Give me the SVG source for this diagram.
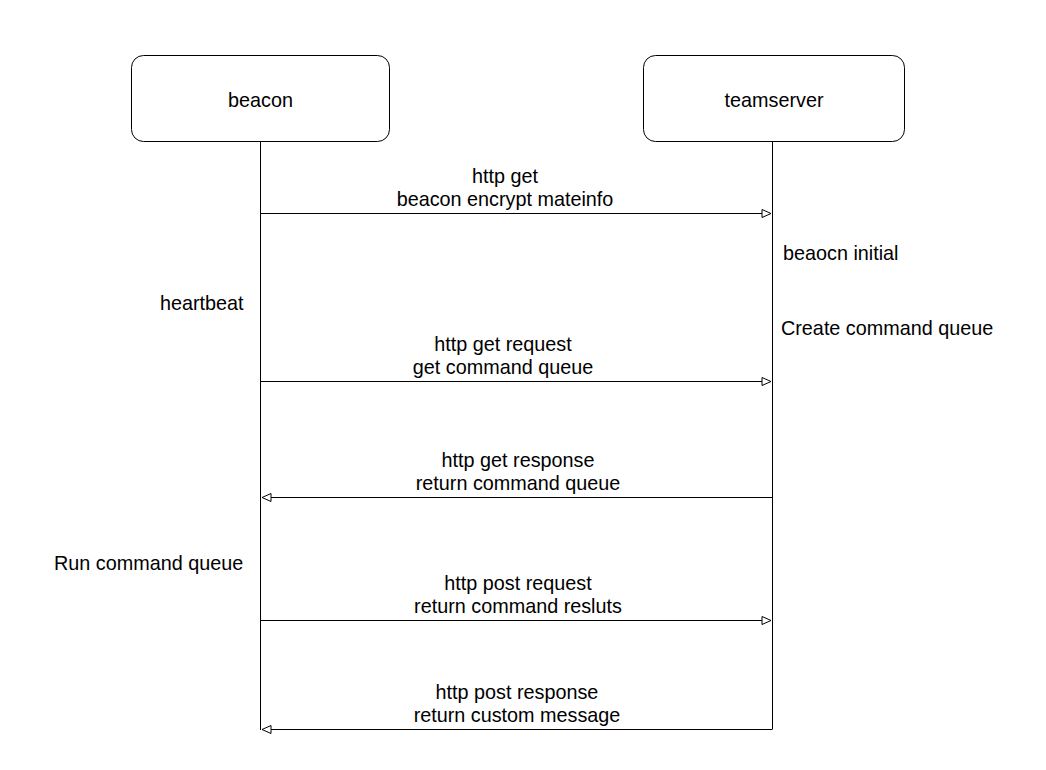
<svg xmlns="http://www.w3.org/2000/svg" width="1046" height="770" viewBox="0 0 1046 770">
<style>
.box{fill:#fff;stroke:#000;stroke-width:1}
.life{stroke:#000;stroke-width:1;fill:none}
.msg{stroke:#000;stroke-width:1;fill:none;marker-end:url(#arr)}
text{font-family:"Liberation Sans",Arial,sans-serif;font-size:19.8px;fill:#000}
.c{text-anchor:middle}
</style>
<defs>
<marker id="arr" markerWidth="12" markerHeight="10" refX="10" refY="5" orient="auto" markerUnits="userSpaceOnUse">
<path d="M1,1 L10,5 L1,9 Z" fill="#fff" stroke="#000" stroke-width="1"/>
</marker>
</defs>
<rect width="1046" height="770" fill="#fff"/>
<g id="beacon">
<rect class="box" x="131.5" y="55.5" width="258" height="86" rx="12"/>
<text class="c" x="260.5" y="107">beacon</text>
</g>
<g id="teamserver">
<rect class="box" x="643.5" y="55.5" width="261" height="86" rx="12"/>
<text class="c" x="774" y="107">teamserver</text>
</g>
<g id="connectors">
<path class="life" d="M260.5,141.5 V730"/>
<path class="life" d="M772.5,141.5 V729"/>
<path class="msg" d="M260.5,213.5 H771"/>
<path class="msg" d="M260.5,381.5 H771"/>
<path class="msg" d="M772.5,497.5 H262"/>
<path class="msg" d="M260.5,620.5 H771"/>
<path class="msg" d="M772.5,729.5 H262"/>
</g>
<g id="labels">
<text class="c" x="505" y="183">http get</text>
<text class="c" x="505" y="206">beacon encrypt mateinfo</text>
<text x="783" y="260">beaocn initial</text>
<text x="160" y="310">heartbeat</text>
<text x="781" y="335">Create command queue</text>
<text class="c" x="503" y="351">http get request</text>
<text class="c" x="503" y="374">get command queue</text>
<text class="c" x="518" y="467">http get response</text>
<text class="c" x="518" y="490">return command queue</text>
<text x="54" y="570">Run command queue</text>
<text class="c" x="518" y="590">http post request</text>
<text class="c" x="518" y="613">return command resluts</text>
<text class="c" x="517" y="699">http post response</text>
<text class="c" x="517" y="722">return custom message</text>
</g>
</svg>
